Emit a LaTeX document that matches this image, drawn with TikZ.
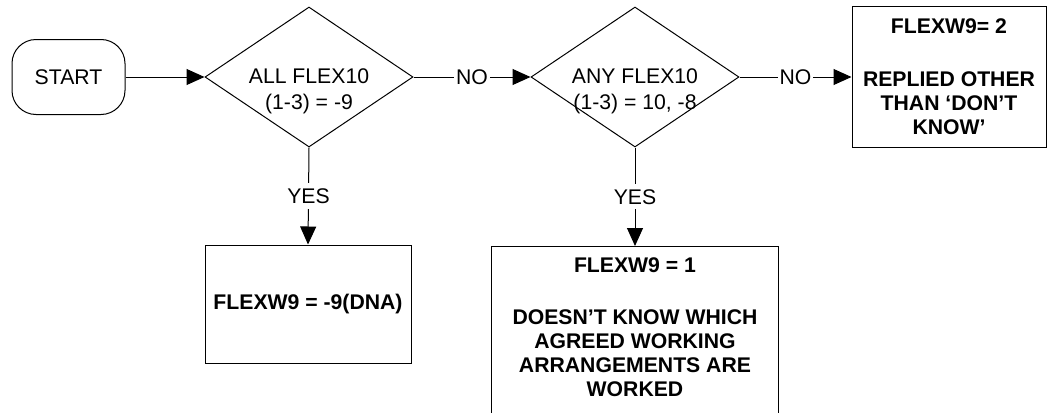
\documentclass[tikz,border=0pt]{standalone}
\usepackage{fontspec}
\setmainfont{Liberation Sans}
\usetikzlibrary{arrows.meta, shapes.geometric}

\begin{document}
\begin{tikzpicture}[x=0.5pt, y=-0.5pt, line width=0.5pt, >={Triangle[length=9pt, width=8pt]},
    every node/.style={font=\fontsize{10.6}{12}\selectfont},
    decision/.style={draw, diamond, minimum width=104pt, minimum height=70pt, inner sep=0pt},
    outbox/.style={draw, rectangle, align=center, font=\fontsize{10.6}{12}\selectfont\bfseries},
    lbl/.style={fill=white, inner xsep=1pt, inner ysep=2.5pt}]
        \useasboundingbox (0,0) rectangle (1048,412);

        % Inicio
        \node[draw, rounded corners=12pt, minimum width=56.5pt, minimum height=37.5pt] (start) at (68.5,77) {START};

        % Preguntas
        \node[decision] (all) at (309,77) {};
        \node[align=center] (all-txt) at ([yshift=-7pt]all.center) {ALL FLEX10\\[1pt](1-3) = -9};
        \node[decision] (any) at (635,77) {};
        \node[align=center] (any-txt) at ([yshift=-7pt]any.center) {ANY FLEX10\\[1pt](1-3) = 10, -8};

        % Resultados
        \node[outbox, minimum width=97pt, minimum height=70.5pt] (replied) at (949,77)
            {FLEXW9= 2\\[14.5pt]REPLIED OTHER\\THAN ‘DON’T\\KNOW’};
        \node[outbox, minimum width=103pt, minimum height=59pt] (dna) at (308,304) {FLEXW9 = -9(DNA)};
        \node[outbox, minimum width=143.5pt, minimum height=100pt, anchor=north] (dk) at (635,246) {};
        \node[align=center, font=\fontsize{10.6}{12}\selectfont\bfseries, anchor=north, inner sep=0pt] (dk-txt)
            at ([yshift=-5.75pt]dk.north)
            {FLEXW9 = 1\\[14pt]DOESN’T KNOW WHICH\\AGREED WORKING\\ARRANGEMENTS ARE\\WORKED};

        % Conectores
        \draw[->] (start.east) -- (all.west);
        \draw[->] (all.east) -- node[lbl] {NO} (any.west);
        \draw[->] (any.east) -- node[lbl] {NO} (replied.west);
        \draw[->] (all.south) -- node[lbl] {YES} (dna.north);
        \draw[->] (any.south) -- node[lbl] {YES} (dk.north);

    \end{tikzpicture}
\end{document}
